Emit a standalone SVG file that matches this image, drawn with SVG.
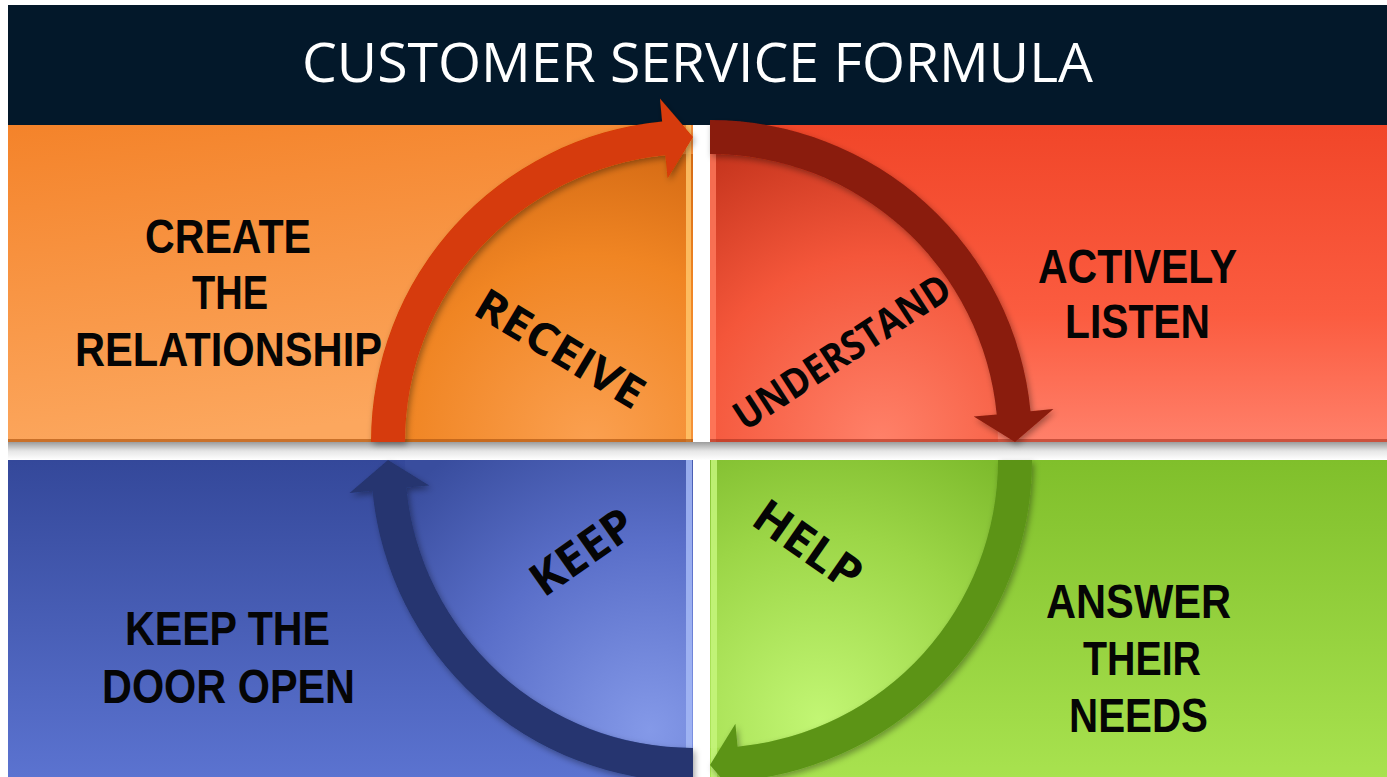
<svg xmlns="http://www.w3.org/2000/svg" width="1387" height="777" viewBox="0 0 1387 777">
  <defs>
    <style>
      .title { font-family: "Open Sans", "Liberation Sans", sans-serif; font-size: 55px; fill: #ffffff; }
      .label { font-family: "Liberation Sans Narrow", "Liberation Sans", Arial, sans-serif; font-weight: bold; font-size: 49px; fill: #050505; }
      .step { font-family: "Open Sans", "Liberation Sans", sans-serif; font-weight: bold; fill: #050505; }
      .arrow { filter: url(#shadow); }
    </style>
    <filter id="shadow" x="-20%" y="-20%" width="140%" height="140%">
      <feDropShadow dx="2" dy="3" stdDeviation="3" flood-color="#000" flood-opacity="0.35"/>
    </filter>
    <!-- panel base fills -->
    <linearGradient id="gOrange" x1="0" y1="0" x2="0.25" y2="1">
      <stop offset="0" stop-color="#F4832A"/>
      <stop offset="1" stop-color="#FCA75E"/>
    </linearGradient>
    <linearGradient id="gRed" x1="0" y1="0" x2="0" y2="1">
      <stop offset="0" stop-color="#F14629"/>
      <stop offset="0.6" stop-color="#FB5C40"/>
      <stop offset="1" stop-color="#FF806A"/>
    </linearGradient>
    <linearGradient id="gGreen" x1="0" y1="0" x2="0" y2="1">
      <stop offset="0" stop-color="#80BF2B"/>
      <stop offset="1" stop-color="#A8E24F"/>
    </linearGradient>
    <linearGradient id="gBlue" x1="0" y1="0" x2="0" y2="1">
      <stop offset="0" stop-color="#34489A"/>
      <stop offset="1" stop-color="#5B73D0"/>
    </linearGradient>
    <!-- inner quarter discs -->
    <radialGradient id="dOrange" gradientUnits="userSpaceOnUse" cx="590" cy="442" r="340">
      <stop offset="0" stop-color="#FBA050"/>
      <stop offset="0.55" stop-color="#F08523"/>
      <stop offset="1" stop-color="#CC620F"/>
    </radialGradient>
    <radialGradient id="dRed" gradientUnits="userSpaceOnUse" cx="880" cy="442" r="340">
      <stop offset="0" stop-color="#FF8169"/>
      <stop offset="0.55" stop-color="#F4563A"/>
      <stop offset="1" stop-color="#C2321B"/>
    </radialGradient>
    <radialGradient id="dGreen" gradientUnits="userSpaceOnUse" cx="820" cy="720" r="340">
      <stop offset="0" stop-color="#C2F674"/>
      <stop offset="0.55" stop-color="#9CD647"/>
      <stop offset="1" stop-color="#76B426"/>
    </radialGradient>
    <radialGradient id="dBlue" gradientUnits="userSpaceOnUse" cx="650" cy="730" r="340">
      <stop offset="0" stop-color="#8499E8"/>
      <stop offset="0.55" stop-color="#5A6FC9"/>
      <stop offset="1" stop-color="#394D9E"/>
    </radialGradient>
    <linearGradient id="gapShade" x1="0" y1="0" x2="0" y2="1">
      <stop offset="0" stop-color="#9C9C9C"/>
      <stop offset="0.5" stop-color="#E6E6E6"/>
      <stop offset="1" stop-color="#FFFFFF"/>
    </linearGradient>
  </defs>

  <rect width="1387" height="777" fill="#ffffff"/>

  <!-- header bar -->
  <g id="header">
    <rect x="8" y="5" width="1379" height="120" fill="#03182A"/>
    <text class="title" x="302" y="82" textLength="791" lengthAdjust="spacingAndGlyphs">CUSTOMER SERVICE FORMULA</text>
  </g>

  <!-- shadow under the top row -->
  <rect x="8" y="442" width="1379" height="18" fill="url(#gapShade)"/>

  <!-- top-left: create the relationship -->
  <g id="create-relationship">
    <rect x="8" y="125" width="685" height="317" fill="url(#gOrange)"/>
    <path d="M693,442 L405,442 A288,288 0 0 1 693,154 Z" fill="url(#dOrange)"/>
    <rect x="686" y="125" width="5" height="317" fill="#FFC46A" opacity="0.85"/>
    <rect x="8" y="439" width="685" height="3" fill="#B35A14" opacity="0.7"/>
    <text class="label" x="145" y="253" textLength="166" lengthAdjust="spacingAndGlyphs">CREATE</text>
    <text class="label" x="192" y="309" textLength="76" lengthAdjust="spacingAndGlyphs">THE</text>
    <text class="label" x="75" y="366" textLength="307" lengthAdjust="spacingAndGlyphs">RELATIONSHIP</text>
  </g>

  <!-- top-right: actively listen -->
  <g id="actively-listen">
    <rect x="710" y="125" width="677" height="317" fill="url(#gRed)"/>
    <path d="M710,442 L710,154 A288,288 0 0 1 998,442 Z" fill="url(#dRed)"/>
    <rect x="710" y="125" width="6" height="317" fill="#FF7A5E" opacity="0.8"/>
    <rect x="710" y="439" width="677" height="3" fill="#A83220" opacity="0.6"/>
    <text class="label" x="1038" y="283" textLength="199" lengthAdjust="spacingAndGlyphs">ACTIVELY</text>
    <text class="label" x="1065" y="338" textLength="145" lengthAdjust="spacingAndGlyphs">LISTEN</text>
  </g>

  <!-- bottom-left: keep the door open -->
  <g id="keep-door-open">
    <rect x="8" y="460" width="685" height="317" fill="url(#gBlue)"/>
    <path d="M693,460 L693,748 A288,288 0 0 1 405,460 Z" fill="url(#dBlue)"/>
    <rect x="686" y="460" width="6" height="317" fill="#A4B8F6" opacity="0.85"/>
    <text class="label" x="125" y="645" textLength="205" lengthAdjust="spacingAndGlyphs">KEEP THE</text>
    <text class="label" x="102" y="703" textLength="253" lengthAdjust="spacingAndGlyphs">DOOR OPEN</text>
  </g>

  <!-- bottom-right: answer their needs -->
  <g id="answer-needs">
    <rect x="710" y="460" width="677" height="317" fill="url(#gGreen)"/>
    <path d="M710,460 L998,460 A288,288 0 0 1 710,748 Z" fill="url(#dGreen)"/>
    <rect x="711" y="460" width="6" height="317" fill="#C6F67C" opacity="0.85"/>
    <text class="label" x="1046" y="618" textLength="185" lengthAdjust="spacingAndGlyphs">ANSWER</text>
    <text class="label" x="1083" y="675" textLength="118" lengthAdjust="spacingAndGlyphs">THEIR</text>
    <text class="label" x="1069" y="732" textLength="139" lengthAdjust="spacingAndGlyphs">NEEDS</text>
  </g>

  <!-- curved cycle arrows -->
  <g id="connectors">
    <path id="arrow-receive" class="arrow" fill="#D63B07" d="M371,442 A322,322 0 0 1 662.14,121.48 L659.93,98.59 L693,137 L667.60,178.22 L665.40,155.32 A288,288 0 0 0 405,442 Z"/>
    <path id="arrow-understand" class="arrow" fill="#8A1B0B" d="M710,120 A322,322 0 0 1 1030.52,411.14 L1053.41,408.93 L1015,442 L973.78,416.60 L996.68,414.40 A288,288 0 0 0 710,154 Z"/>
    <path id="arrow-help" class="arrow" fill="#5B9419" d="M1032,460 A322,322 0 0 1 740.86,780.52 L743.07,803.41 L710,765 L735.40,723.78 L737.60,746.68 A288,288 0 0 0 998,460 Z"/>
    <path id="arrow-keep" class="arrow" fill="#25356F" d="M693,782 A322,322 0 0 1 372.48,490.86 L349.59,493.07 L388,460 L429.22,485.40 L406.32,487.60 A288,288 0 0 0 693,748 Z"/>
  </g>

  <!-- step names along the arrows -->
  <g id="step-labels">
    <text class="step" font-size="44" transform="translate(560,349) rotate(31)" x="-94.5" y="15" textLength="189" lengthAdjust="spacingAndGlyphs">RECEIVE</text>
    <text class="step" font-size="40" transform="translate(842,352) rotate(-33)" x="-125" y="14" textLength="250" lengthAdjust="spacingAndGlyphs">UNDERSTAND</text>
    <text class="step" font-size="46" transform="translate(582,552) rotate(-35)" x="-58" y="16" textLength="116" lengthAdjust="spacingAndGlyphs">KEEP</text>
    <text class="step" font-size="46" transform="translate(808,545) rotate(35)" x="-60.5" y="16" textLength="121" lengthAdjust="spacingAndGlyphs">HELP</text>
  </g>
</svg>
